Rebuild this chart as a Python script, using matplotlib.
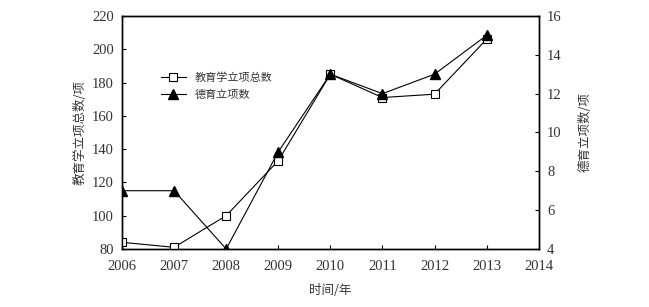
import numpy as np
import matplotlib.pyplot as plt

# 数据
years = [2006, 2007, 2008, 2009, 2010, 2011, 2012, 2013]
total_items = [84, 81, 100, 133, 185, 171, 173, 206]   # 教育学立项总数
moral_items = [7, 7, 4, 9, 13, 12, 13, 15]             # 德育立项数
x_ticks = [2006, 2007, 2008, 2009, 2010, 2011, 2012, 2013, 2014]

serif = 'Liberation Serif'
cjk = ['Noto Sans CJK SC', 'DejaVu Sans']
grey = '#333333'

fig = plt.figure(figsize=(6.49, 3.07), dpi=100)
ax = fig.add_axes([0.188, 0.189, 0.642, 0.759])
ax2 = ax.twinx()

l1, = ax.plot(years, total_items, color='black', lw=0.8, marker='s', ms=6,
              mfc='white', mec='black', mew=0.8, label='教育学立项总数', zorder=3)
l2, = ax2.plot(years, moral_items, color='black', lw=0.8, marker='^', ms=7,
               mfc='black', mec='black', label='德育立项数', zorder=3)

ax.set_xlim(2006, 2014)
ax.set_ylim(80, 220)
ax2.set_ylim(4, 16)
ax.set_xticks(x_ticks)
ax.set_yticks(np.arange(80, 221, 20))
ax2.set_yticks(np.arange(4, 17, 2))

for a in (ax, ax2):
    for s in a.spines.values():
        s.set_linewidth(1.0)
    a.tick_params(direction='in', length=3, width=0.8, labelsize=10.5, colors='black',
                  labelcolor=grey)
    a.tick_params(axis='y', pad=6)
    for t in a.get_xticklabels() + a.get_yticklabels():
        t.set_fontfamily(serif)
ax.tick_params(axis='x', pad=8)

ax.set_xlabel('时间/年', family=cjk, fontsize=9, color=grey, labelpad=8)
ax.set_ylabel('教育学立项总数/项', family=cjk, fontsize=9, color=grey, labelpad=4)
ax2.set_ylabel('德育立项数/项', family=cjk, fontsize=9, color=grey, labelpad=12)

leg = ax.legend(handles=[l1, l2], loc='upper left', bbox_to_anchor=(0.07, 0.8),
                frameon=False, prop={'family': cjk, 'size': 8}, handlelength=2.2,
                labelspacing=0.6)
for t in leg.get_texts():
    t.set_color(grey)

fig.savefig('out.png', dpi=100)
